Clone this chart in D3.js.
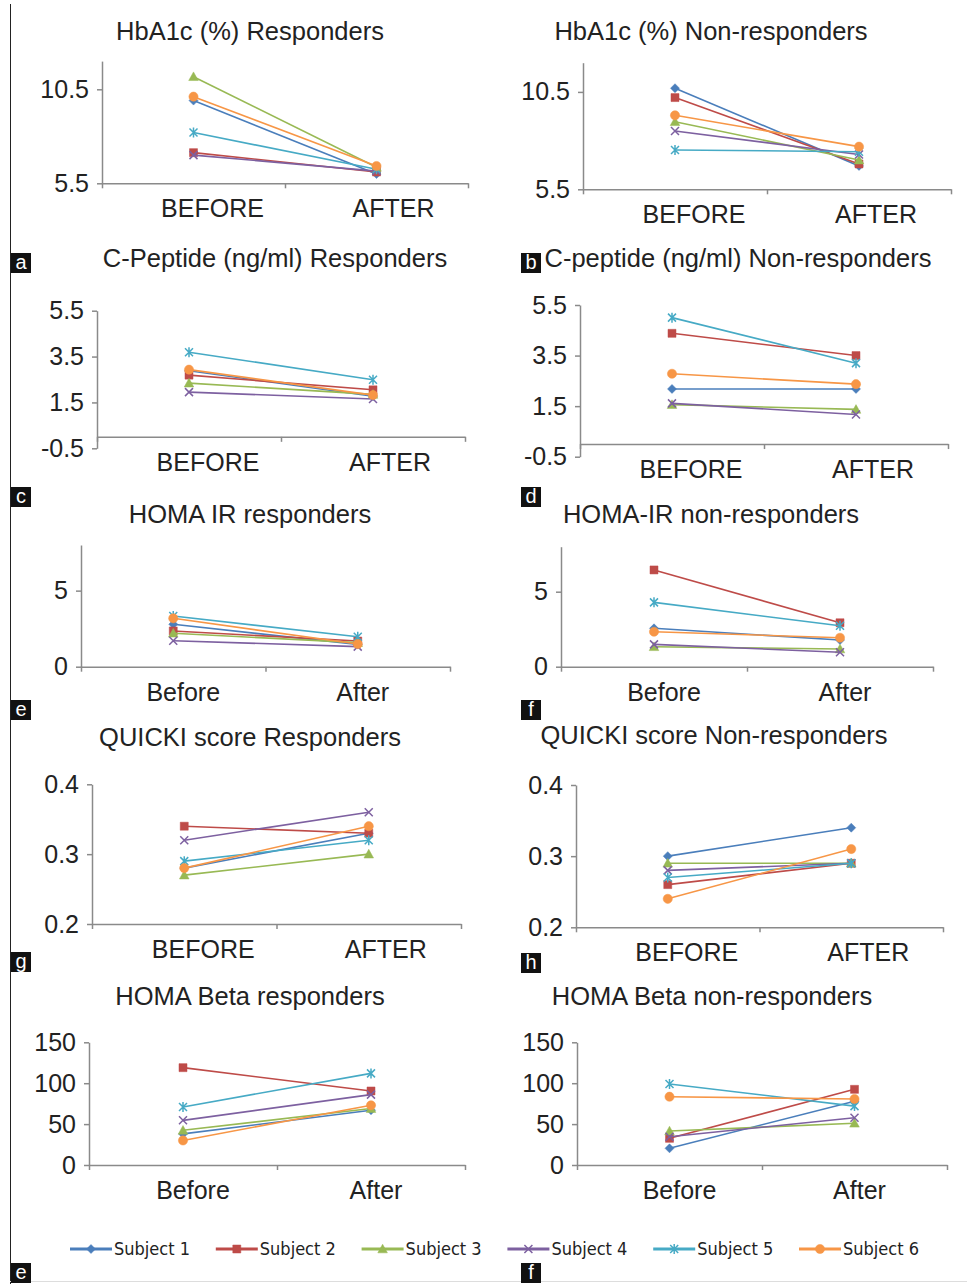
<!DOCTYPE html>
<html>
<head>
<meta charset="utf-8">
<script src="https://cdn.jsdelivr.net/npm/d3@7"></script>
<style>
  body { margin: 0; background: #fff; }
  svg { display: block; font-family: "Liberation Sans", Arial, sans-serif; }
</style>
</head>
<body>
<div id="container"></div>
<script>
const WIDTH = 967;
const HEIGHT = 1284;

var SUBJECTS = ["Subject 1", "Subject 2", "Subject 3", "Subject 4", "Subject 5", "Subject 6"];
var CATS_UPPER = ["BEFORE", "AFTER"];
var CATS_LOWER = ["Before", "After"];

// tick labels
var hba1cTicks = [5.5, 10.5];
var cpepTicks = [-0.5, 1.5, 3.5, 5.5];
var homaIrTicks = [0, 5];
var quickiTicks = [0.2, 0.3, 0.4];
var homaBetaTicks = [0, 50, 100, 150];

// [before, after] for each subject
var hba1cResp = [[9.9, 5.99], [7.13, 6.1], [11.17, 6.35], [7.0, 6.15], [8.2, 6.25], [10.11, 6.42]];
var hba1cNonResp = [[10.69, 6.7], [10.21, 6.8], [8.97, 7.0], [8.49, 7.29], [7.52, 7.43], [9.3, 7.69]];
var cpepResp = [[2.88, 1.77], [2.69, 2.05], [2.34, 1.85], [1.95, 1.65], [3.69, 2.49], [2.93, 1.82]];
var cpepNonResp = [[2.18, 2.18], [4.38, 3.5], [1.56, 1.37], [1.61, 1.17], [5.0, 3.2], [2.78, 2.37]];
var homaIrResp = [[2.79, 1.46], [2.35, 1.69], [2.2, 1.58], [1.71, 1.32], [3.33, 1.97], [3.18, 1.49]];
var homaIrNonResp = [[2.56, 1.78], [6.45, 2.93], [1.33, 1.18], [1.49, 0.96], [4.29, 2.73], [2.33, 1.93]];
var quickiResp = [[0.28, 0.33], [0.34, 0.33], [0.27, 0.30], [0.32, 0.36], [0.29, 0.32], [0.28, 0.34]];
var quickiNonResp = [[0.30, 0.34], [0.26, 0.29], [0.29, 0.29], [0.28, 0.29], [0.27, 0.29], [0.24, 0.31]];
var homaBetaResp = [[38, 67], [119, 90.5], [42.4, 69], [54.6, 86], [71, 112], [30, 73]];
var homaBetaNonResp = [[20.4, 78], [32.6, 92.5], [41.5, 51], [34.6, 57.8], [99, 72], [83.5, 80.7]];

var COLORS = ["#4a7ebb", "#be4b48", "#98b954", "#7d60a0", "#46aac5", "#f79646"];

// category label nudges (labels sit a bit right of the points in the original)
var SHIFT_UPPER = [19, 17];
var SHIFT_LOWER = [10, 5];

// panel layout: y domain min/max placed at pixel bottom/top
var panels = [
    {title: "HbA1c (%) Responders", tx: 250, ty: 40, data: hba1cResp, cats: CATS_UPPER, ticks: hba1cTicks,
        domain: [5.5, 12], left: 102, right: 468, bottom: 183.3, top: 61.1, cross: 5.5, tag: "a", lx: 11, ly: 253},
    {title: "HbA1c (%) Non-responders", tx: 711, ty: 40, data: hba1cNonResp, cats: CATS_UPPER, ticks: hba1cTicks,
        domain: [5.5, 12], left: 583, right: 951, bottom: 189.3, top: 62.7, cross: 5.5, tag: "b", lx: 521, ly: 253},
    {title: "C-Peptide (ng/ml) Responders", tx: 275, ty: 267, data: cpepResp, cats: CATS_UPPER, ticks: cpepTicks,
        domain: [-0.5, 5.5], left: 97, right: 465, bottom: 448.3, top: 310.7, cross: 0, tag: "c", lx: 11, ly: 487},
    {title: "C-peptide (ng/ml) Non-responders", tx: 738, ty: 267, data: cpepNonResp, cats: CATS_UPPER, ticks: cpepTicks,
        domain: [-0.5, 5.5], left: 580, right: 948, bottom: 456.7, top: 305, cross: 0, tag: "d", lx: 521, ly: 487},
    {title: "HOMA IR responders", tx: 250, ty: 523, data: homaIrResp, cats: CATS_LOWER, ticks: homaIrTicks,
        domain: [0, 8], left: 81, right: 450, bottom: 666.7, top: 545, cross: 0, tag: "e", lx: 11, ly: 700},
    {title: "HOMA-IR non-responders", tx: 711, ty: 523, data: homaIrNonResp, cats: CATS_LOWER, ticks: homaIrTicks,
        domain: [0, 8], left: 561, right: 933, bottom: 666.7, top: 546.7, cross: 0, tag: "f", lx: 521, ly: 700},
    {title: "QUICKI score Responders", tx: 250, ty: 746, data: quickiResp, cats: CATS_UPPER, ticks: quickiTicks,
        domain: [0.2, 0.4], left: 92, right: 461, bottom: 924, top: 784.3, cross: 0.2, tag: "g", lx: 11, ly: 952},
    {title: "QUICKI score Non-responders", tx: 714, ty: 744, data: quickiNonResp, cats: CATS_UPPER, ticks: quickiTicks,
        domain: [0.2, 0.4], left: 576, right: 943, bottom: 927.3, top: 785, cross: 0.2, tag: "h", lx: 521, ly: 953},
    {title: "HOMA Beta responders", tx: 250, ty: 1005, data: homaBetaResp, cats: CATS_LOWER, ticks: homaBetaTicks,
        domain: [0, 150], left: 89, right: 465, bottom: 1165, top: 1042.3, cross: 0, tag: "e", lx: 11, ly: 1263},
    {title: "HOMA Beta non-responders", tx: 712, ty: 1005, data: homaBetaNonResp, cats: CATS_LOWER, ticks: homaBetaTicks,
        domain: [0, 150], left: 577, right: 947, bottom: 1165, top: 1042.3, cross: 0, tag: "f", lx: 521, ly: 1263}
];

// excel-like marker shapes
var markerTypes = [
    {draw: function (c, s) { var r = 4.5; c.moveTo(0, -r); c.lineTo(r, 0); c.lineTo(0, r); c.lineTo(-r, 0); c.closePath(); }},
    {draw: function (c, s) { var r = 4; c.rect(-r, -r, 2 * r, 2 * r); }},
    {draw: function (c, s) { var r = 4.8; c.moveTo(0, -r); c.lineTo(r, r * 0.8); c.lineTo(-r, r * 0.8); c.closePath(); }},
    {draw: function (c, s) { var r = 4; c.moveTo(-r, -r); c.lineTo(r, r); c.moveTo(-r, r); c.lineTo(r, -r); }},
    {draw: function (c, s) { var r = 4; c.moveTo(-r, -r); c.lineTo(r, r); c.moveTo(-r, r); c.lineTo(r, -r); c.moveTo(0, -r - 1); c.lineTo(0, r + 1); }},
    {draw: function (c, s) { var r = 4.6; c.moveTo(r, 0); c.arc(0, 0, r, 0, 2 * Math.PI); }}
];
var strokeOnly = [false, false, false, true, true, false];

var drawMarker = function (g, i, x, y) {
    g.append("path")
        .attr("d", d3.symbol().type(markerTypes[i])())
        .attr("transform", "translate(" + x + "," + y + ")")
        .attr("fill", strokeOnly[i] ? "none" : COLORS[i])
        .attr("stroke", COLORS[i])
        .attr("stroke-width", strokeOnly[i] ? 1.5 : 0.5);
};

var styleAxis = function (g) {
    g.select(".domain").attr("stroke", "#8a8a8a").attr("stroke-width", 1.5);
    g.selectAll(".tick line").attr("stroke", "#8a8a8a").attr("stroke-width", 1.5);
    g.selectAll("text").attr("fill", "#222").attr("font-family", "Liberation Sans, Arial, sans-serif");
};

var drawPanel = function (svg, p) {
    var y = d3.scaleLinear().domain(p.domain).range([p.bottom, p.top]);
    var x = d3.scaleBand().domain(p.cats).range([p.left, p.right]);
    var edges = d3.scaleLinear().domain([0, p.cats.length]).range([p.left, p.right]);
    var axisY = y(p.cross);
    var shift = p.cats === CATS_UPPER ? SHIFT_UPPER : SHIFT_LOWER;

    svg.append("text")
        .attr("x", p.tx).attr("y", p.ty)
        .attr("text-anchor", "middle")
        .attr("font-size", 25.5)
        .attr("fill", "#222")
        .text(p.title);

    var gy = svg.append("g")
        .attr("transform", "translate(" + p.left + ",0)")
        .call(d3.axisLeft(y).tickValues(p.ticks).tickSize(5).tickSizeOuter(0).tickPadding(8)
            .tickFormat(function (d) { return String(d); }));
    gy.selectAll("text").attr("font-size", 25);
    styleAxis(gy);

    var gx = svg.append("g")
        .attr("transform", "translate(0," + axisY + ")")
        .call(d3.axisBottom(edges).tickValues(d3.range(p.cats.length + 1)).tickSize(5).tickSizeOuter(0).tickFormat(""));
    styleAxis(gx);

    var gl = svg.append("g")
        .attr("transform", "translate(0," + axisY + ")")
        .call(d3.axisBottom(x).tickSize(0));
    gl.select(".domain").remove();
    gl.selectAll("text").attr("font-size", 25).attr("dy", 0).attr("y", 34)
        .attr("x", function (d, k) { return shift[k]; });
    styleAxis(gl);

    var line = d3.line()
        .x(function (d, k) { return x(p.cats[k]) + x.bandwidth() / 2; })
        .y(function (d) { return y(d); });

    p.data.forEach(function (pair, i) {
        var gs = svg.append("g");
        gs.append("path")
            .attr("d", line(pair))
            .attr("fill", "none")
            .attr("stroke", COLORS[i])
            .attr("stroke-width", 1.6);
        pair.forEach(function (v, k) {
            drawMarker(gs, i, x(p.cats[k]) + x.bandwidth() / 2, y(v));
        });
    });

    svg.append("rect")
        .attr("x", p.lx).attr("y", p.ly)
        .attr("width", 20).attr("height", 20)
        .attr("fill", "#111");
    svg.append("text")
        .attr("x", p.lx + 10).attr("y", p.ly + 16)
        .attr("text-anchor", "middle")
        .attr("font-size", 20)
        .attr("fill", "#fff")
        .text(p.tag);
};

var drawLegend = function (svg) {
    var lx = d3.scaleLinear().domain([0, SUBJECTS.length - 1]).range([70, 799]);
    var ly = 1249;
    SUBJECTS.forEach(function (name, i) {
        var g = svg.append("g");
        g.append("line")
            .attr("x1", lx(i)).attr("x2", lx(i) + 42)
            .attr("y1", ly).attr("y2", ly)
            .attr("stroke", COLORS[i])
            .attr("stroke-width", 3);
        drawMarker(g, i, lx(i) + 21, ly);
        g.append("text")
            .attr("x", lx(i) + 44).attr("y", ly + 6)
            .attr("font-family", "Liberation Sans Narrow, DejaVu Sans Condensed, sans-serif")
            .attr("font-size", 18)
            .attr("fill", "#222")
            .text(name);
    });
};

var generateChart = function () {
    var svg = d3.select("#container").append("svg")
        .attr("width", WIDTH)
        .attr("height", HEIGHT);

    svg.append("line").attr("x1", 10.5).attr("x2", 10.5).attr("y1", 4).attr("y2", HEIGHT)
        .attr("stroke", "#222").attr("stroke-width", 1);
    svg.append("line").attr("x1", 10).attr("x2", WIDTH).attr("y1", 1281.5).attr("y2", 1281.5)
        .attr("stroke", "#ddd").attr("stroke-width", 1);

    panels.forEach(function (p) { drawPanel(svg, p); });
    drawLegend(svg);
};

window.onload = generateChart;
</script>
</body>
</html>
